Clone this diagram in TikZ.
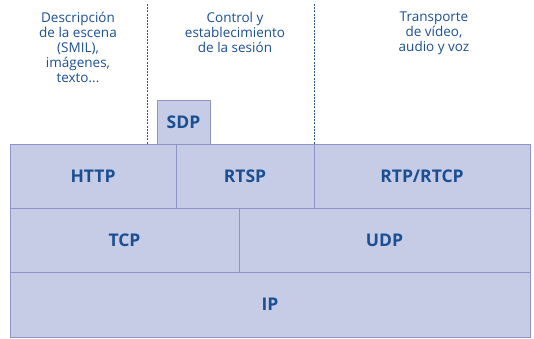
\documentclass[tikz,border=0pt]{standalone}
\usepackage{fontspec}
\setmainfont{Open Sans}
\definecolor{boxfill}{HTML}{C6CCE6}
\definecolor{boxline}{HTML}{8C94C8}
\definecolor{txtblue}{HTML}{1B4F93}
\definecolor{dashblue}{HTML}{2A5A9A}
\begin{document}
\begin{tikzpicture}[x=1pt,y=-1pt,
  layer/.style={draw=boxline,fill=boxfill,line width=0.9pt,inner sep=0pt,
    font=\bfseries\fontsize{17.5}{19}\selectfont,text=txtblue},
  head/.style={align=center,inner sep=0pt,font=\fontsize{13.5}{15}\selectfont,text=txtblue,anchor=north},
  sep/.style={draw=dashblue,dashed,dash pattern=on 2pt off 1.2pt,line width=1pt}]
\useasboundingbox (0,0) rectangle (534,339);
% rows
\node[layer,minimum width=520pt,minimum height=65pt] (ip) at (270,304.5) {IP};
\node[layer,minimum width=229pt,minimum height=64pt] (tcp) at (124.5,240) {TCP};
\node[layer,minimum width=291pt,minimum height=64pt] (udp) at (384.5,240) {UDP};
\node[layer,minimum width=166pt,minimum height=64pt] (http) at (93,176) {HTTP};
\node[layer,minimum width=138pt,minimum height=64pt] (rtsp) at (245,176) {RTSP};
\node[layer,minimum width=216pt,minimum height=64pt] (rtp) at (422,176) {RTP/RTCP};
\node[layer,minimum width=53pt,minimum height=44pt] (sdp) at (183.5,122) {SDP};
% dashed separators
\coordinate (s1) at (147,4);
\coordinate (s2) at (314,4);
\draw[sep] (s1) -- (s1 |- http.north);
\draw[sep] (s2) -- (s2 |- rtsp.north);
% headings
\node[head] (h1) at (78,12) {Descripción\\de la escena\\(SMIL),\\imágenes,\\texto...};
\node[head] (h2) at (235,12) {Control y\\establecimiento\\de la sesión};
\node[head] (h3) at (434,12) {Transporte\\de vídeo,\\audio y voz};
\end{tikzpicture}
\end{document}
